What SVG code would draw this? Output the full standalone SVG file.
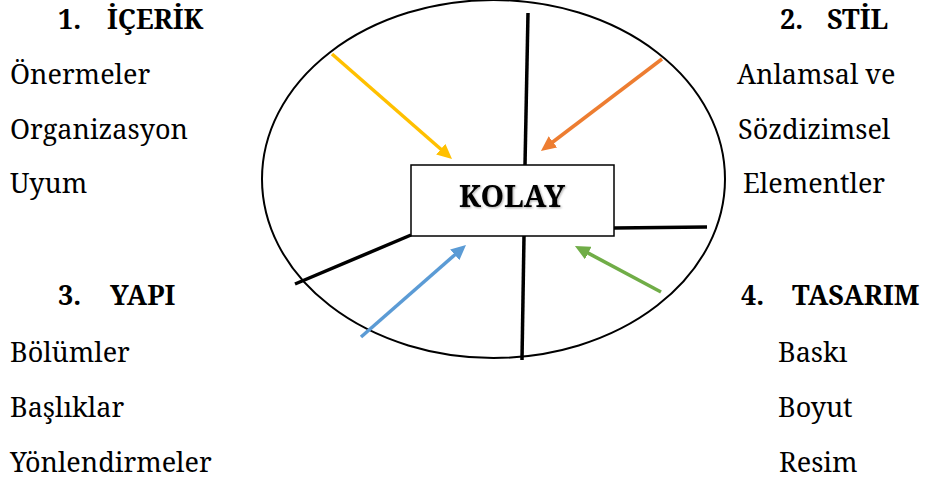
<svg xmlns="http://www.w3.org/2000/svg" width="946" height="481" viewBox="0 0 946 481">
<defs>
<style>
.t{font-family:'Noto Serif','DejaVu Serif',serif;font-size:27px;fill:#000}
.h{font-weight:bold;font-size:27px}
.k{font-family:'Noto Serif','DejaVu Serif',serif;font-size:30px;font-weight:bold;fill:#000}
.bl{stroke:#000;stroke-width:3.5;fill:none}
.ar{stroke-width:3.5;fill:none}
</style>
<marker id="mY" markerUnits="userSpaceOnUse" markerWidth="16" markerHeight="14" refX="1" refY="7" orient="auto"><path d="M0,0 L15,7 L0,14 z" fill="#FFC000"/></marker>
<marker id="mO" markerUnits="userSpaceOnUse" markerWidth="16" markerHeight="14" refX="1" refY="7" orient="auto"><path d="M0,0 L15,7 L0,14 z" fill="#ED7D31"/></marker>
<marker id="mB" markerUnits="userSpaceOnUse" markerWidth="16" markerHeight="14" refX="1" refY="7" orient="auto"><path d="M0,0 L15,7 L0,14 z" fill="#5B9BD5"/></marker>
<marker id="mG" markerUnits="userSpaceOnUse" markerWidth="16" markerHeight="14" refX="1" refY="7" orient="auto"><path d="M0,0 L15,7 L0,14 z" fill="#70AD47"/></marker>
<filter id="sh" x="-10%" y="-20%" width="120%" height="140%"><feDropShadow dx="1" dy="1" stdDeviation="1" flood-color="#000" flood-opacity="0.35"/></filter>
</defs>
<rect width="946" height="481" fill="#fff"/>
<g id="ellipse"><ellipse cx="493.5" cy="179" rx="231.5" ry="179" fill="none" stroke="#000" stroke-width="2"/></g>
<g id="connectors">
<line class="bl" x1="528" y1="13" x2="525" y2="165"/>
<line class="bl" x1="524" y1="236" x2="522" y2="360"/>
<line class="bl" x1="614" y1="228" x2="707" y2="227"/>
<line class="bl" x1="411" y1="235" x2="295" y2="284"/>
<line class="ar" stroke="#FFC000" x1="332" y1="54" x2="441.5" y2="149.8" marker-end="url(#mY)"/>
<line class="ar" stroke="#ED7D31" x1="662" y1="59" x2="552.1" y2="142.5" marker-end="url(#mO)"/>
<line class="ar" stroke="#5B9BD5" x1="361" y1="337" x2="455.5" y2="254.2" marker-end="url(#mB)"/>
<line class="ar" stroke="#70AD47" x1="661" y1="292" x2="587.3" y2="252.6" marker-end="url(#mG)"/>
</g>
<g id="kolay">
<rect x="411" y="165" width="203" height="71" fill="#fff" stroke="#000" stroke-width="1.5"/>
<text class="k" x="512" y="207" text-anchor="middle" filter="url(#sh)">KOLAY</text>
</g>
<g id="icerik">
<text class="t h" y="29"><tspan x="58">1.</tspan><tspan x="107">İÇERİK</tspan></text>
<text class="t" x="10" y="84">Önermeler</text>
<text class="t" x="10" y="139">Organizasyon</text>
<text class="t" x="10" y="193">Uyum</text>
</g>
<g id="stil">
<text class="t h" y="29"><tspan x="780">2.</tspan><tspan x="827">STİL</tspan></text>
<text class="t" x="737" y="84">Anlamsal ve</text>
<text class="t" x="738" y="139">Sözdizimsel</text>
<text class="t" x="743" y="193">Elementler</text>
</g>
<g id="yapi">
<text class="t h" y="305"><tspan x="58">3.</tspan><tspan x="110">YAPI</tspan></text>
<text class="t" x="10" y="362">Bölümler</text>
<text class="t" x="10" y="417">Başlıklar</text>
<text class="t" x="10" y="472">Yönlendirmeler</text>
</g>
<g id="tasarim">
<text class="t h" y="305"><tspan x="741">4.</tspan><tspan x="792">TASARIM</tspan></text>
<text class="t" x="778" y="362">Baskı</text>
<text class="t" x="778" y="417">Boyut</text>
<text class="t" x="779" y="472">Resim</text>
</g>
</svg>
